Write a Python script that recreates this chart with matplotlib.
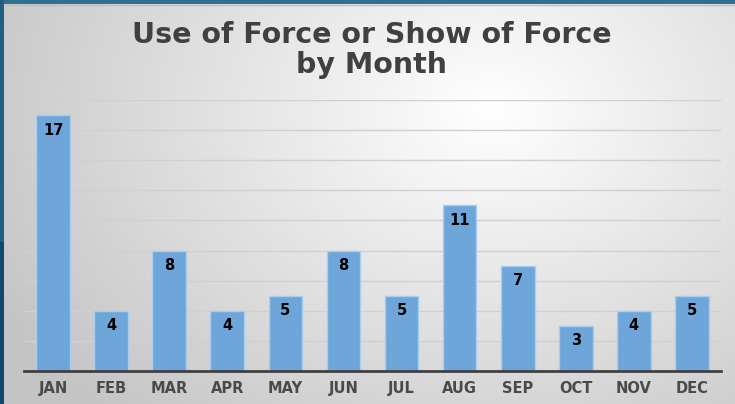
import numpy as np
import matplotlib
matplotlib.use("Agg")
import matplotlib.pyplot as plt
from matplotlib.patches import Rectangle

months = ["JAN", "FEB", "MAR", "APR", "MAY", "JUN", "JUL", "AUG", "SEP", "OCT", "NOV", "DEC"]
counts = [17, 4, 8, 4, 5, 8, 5, 11, 7, 3, 4, 5]
title_text = "Use of Force or Show of Force\nby Month"

W, H = 735, 404
fig = plt.figure(figsize=(W / 100, H / 100), dpi=100)

# background radial gradient
bg = fig.add_axes([0, 0, 1, 1], zorder=-10)
yy, xx = np.mgrid[0:H, 0:W]
cx, cy = 490, 110
d = np.sqrt(((xx - cx) / 560.0) ** 2 + ((yy - cy) / 420.0) ** 2)
v = 1.0 - 0.23 * np.clip(d, 0, 1.2)
v = np.clip(v, 0.77, 1.0)
img = np.dstack([v, v, v])
bg.imshow(img, extent=[0, W, H, 0], aspect="auto", interpolation="bilinear")
bg.set_xlim(0, W)
bg.set_ylim(H, 0)
bg.axis("off")
# teal frame (top and left)
bg.add_patch(Rectangle((0, 0), W, 4, color="#2f6f8f", lw=0))
bg.add_patch(Rectangle((0, 0), 4, H, color="#1f5f82", lw=0))
bg.add_patch(Rectangle((0, H * 0.6), 4, H * 0.4, color="#0f4a6e", lw=0))
bg.plot([4, W], [5, 5], color="#bdbdbd", lw=1)

ax = fig.add_axes([24 / W, 33 / H, (721 - 24) / W, (304 - 33) / H])
ax.patch.set_alpha(0)
x = np.arange(len(months))
bars = ax.bar(x, counts, width=0.58, color="#6fa6da", edgecolor="#a9cdee", linewidth=1.0, zorder=3)
ax.set_xlim(-0.5, len(months) - 0.5)
ax.set_ylim(0, 18)
ax.set_yticks(np.arange(2, 19, 2))
ax.yaxis.grid(True, color="#d0d0d0", lw=1.0, zorder=0)
ax.tick_params(axis="y", left=False, labelleft=False)
ax.tick_params(axis="x", bottom=False, pad=4)
ax.set_xticks(x)
ax.set_xticklabels(months, fontsize=10.5, fontweight="bold", color="#4a4a4a")
for s in ["top", "right", "left"]:
    ax.spines[s].set_visible(False)
ax.spines["bottom"].set_color("#404040")
ax.spines["bottom"].set_linewidth(2)
ax.spines["bottom"].set_zorder(5)

for xi, c in zip(x, counts):
    ax.text(xi, c - 1.0, str(c), ha="center", va="center", fontsize=10.5,
            fontweight="bold", color="black", zorder=6)

fig.text(372 / W, 1 - 50 / H, title_text, ha="center", va="center", fontsize=20.5,
         fontweight="bold", color="#404040", linespacing=1.12)

fig.savefig("out.png", dpi=100)
